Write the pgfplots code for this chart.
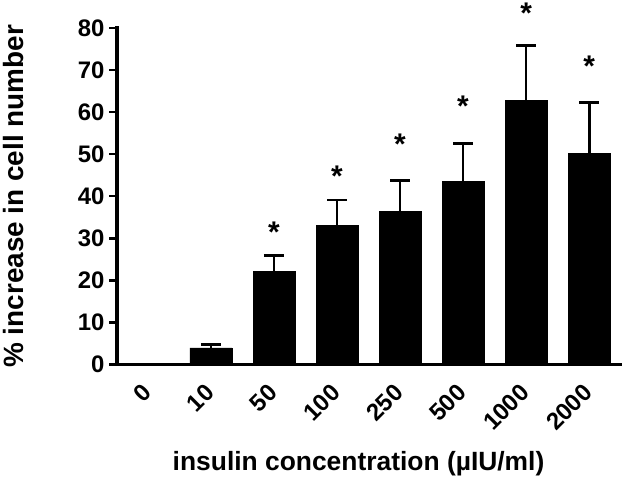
\documentclass[border=0pt]{standalone}
\usepackage{pgfplots}
\pgfplotsset{compat=1.18}
\usepackage{fontspec}
\setmainfont{Liberation Sans}
\begin{document}
\begin{tikzpicture}
\fill[white] (-115pt,-121pt) rectangle (510pt,363pt);
\begin{axis}[
  scale only axis, width=505pt, height=338pt,
  at={(0pt,0pt)}, anchor=south west,
  xmin=-0.49, xmax=7.49, ymin=0, ymax=80,
  axis x line*=bottom, axis y line*=left,
  axis line style={line width=3.5pt, line cap=rect},
  ytick={0,10,...,80},
  xtick={0,...,7},
  xticklabels={0,10,50,100,250,500,1000,2000},
  major x tick style={draw=none},
  major y tick style={line width=2.5pt, black},
  tick align=outside, major tick length=8pt,
  /pgf/number format/assume math mode=true,
  ticklabel style={font=\fontsize{24}{28}\selectfont\bfseries},
  yticklabel style={xshift=-1pt},
  xticklabel style={rotate=45, anchor=north east, xshift=-8.6pt, yshift=1.7pt},
  ylabel={\% increase in cell number},
  xlabel={insulin concentration (µIU/ml)},
  ylabel style={font=\fontsize{28}{32}\selectfont\bfseries, at={(axis description cs:0,0.5)}, anchor=south, yshift=90pt},
  xlabel style={font=\fontsize{26.5}{30}\selectfont\bfseries, at={(axis description cs:0.5,0)}, anchor=north, yshift=-84pt, xshift=-10pt},
  clip=false,
]
\addplot[ybar, bar width=42pt, fill=black, draw=black,
  error bars/.cd, y dir=plus, y explicit,
  error bar style={line width=2.8pt, black},
  error mark options={rotate=90, mark size=10pt, line width=2.8pt}]
coordinates {
  (0,0) +- (0,0)
  (1,4.0) +- (0,0.8)
  (2,22.2) +- (0,3.8)
  (3,33.1) +- (0,6.0)
  (4,36.4) +- (0,7.3)
  (5,43.5) +- (0,9.1)
  (6,62.8) +- (0,13.0)
  (7,50.2) +- (0,12.0)
};
\addplot[draw=none, mark=none, nodes near coords={*},
  nodes near coords align={center},
  every node near coord/.append style={font=\fontsize{30}{30}\selectfont\bfseries, anchor=center}]
coordinates {
  (2,31.5) (3,44.8) (4,52.3) (5,61.4) (6,83.4) (7,70.8)
};
\end{axis}
\end{tikzpicture}
\end{document}
